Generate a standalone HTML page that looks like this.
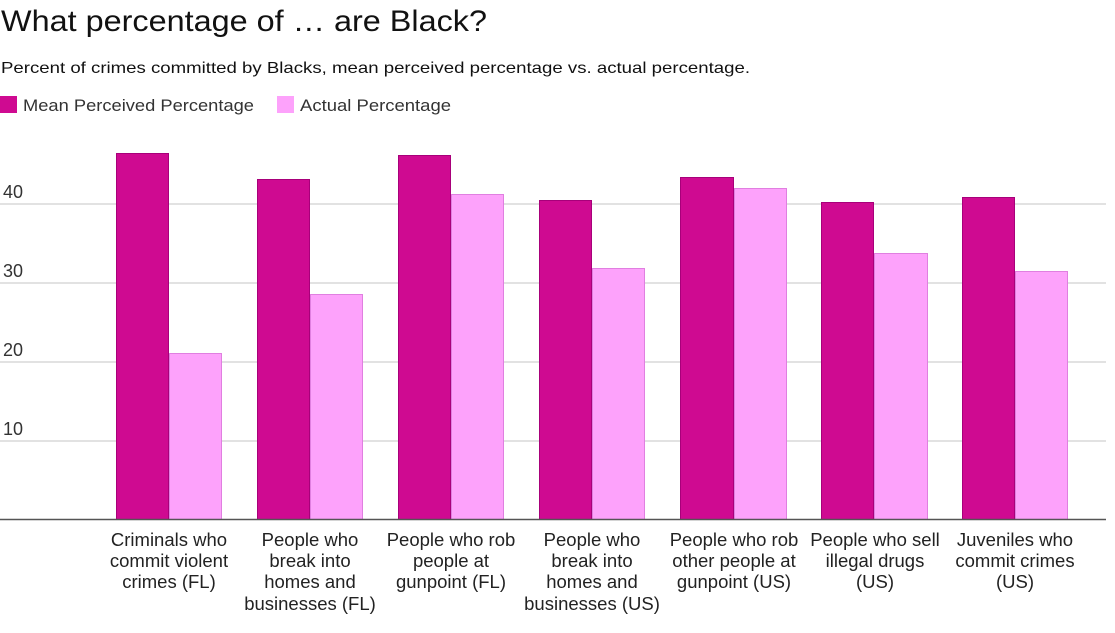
<!DOCTYPE html>
<html><head><meta charset="utf-8"><style>
html,body{margin:0;padding:0;background:#fff;}
svg{display:block;font-family:"Liberation Sans",Arial,sans-serif;}
</style></head><body>
<svg width="1115" height="633" viewBox="0 0 1115 633" xmlns="http://www.w3.org/2000/svg">
<text x="1" y="31" font-size="30" fill="#111" textLength="486" lengthAdjust="spacingAndGlyphs">What percentage of … are Black?</text>
<text x="1" y="73" font-size="16" fill="#111" textLength="749" lengthAdjust="spacingAndGlyphs">Percent of crimes committed by Blacks, mean perceived percentage vs. actual percentage.</text>
<rect x="0" y="96" width="17" height="17" fill="#cf0a91"/>
<text x="23" y="111" font-size="17" fill="#333" textLength="231" lengthAdjust="spacingAndGlyphs">Mean Perceived Percentage</text>
<rect x="277" y="96" width="17" height="17" fill="#fda2fb"/>
<text x="300" y="111" font-size="17" fill="#333" textLength="151" lengthAdjust="spacingAndGlyphs">Actual Percentage</text>
<g stroke="#d8d8d8" stroke-width="1.5">
<line x1="0" y1="204" x2="1106" y2="204"/>
<line x1="0" y1="283" x2="1106" y2="283"/>
<line x1="0" y1="362" x2="1106" y2="362"/>
<line x1="0" y1="441" x2="1106" y2="441"/>
</g>
<g font-size="18" fill="#333">
<text x="3" y="198">40</text>
<text x="3" y="277">30</text>
<text x="3" y="356">20</text>
<text x="3" y="435">10</text>
</g>
<g stroke-width="1">
<rect x="116.5" y="153.5" width="52" height="366" fill="#cf0a91" stroke="#a8007a"/>
<rect x="169.5" y="353.5" width="52" height="166" fill="#fda2fb" stroke="#e07fe0"/>
<rect x="257.5" y="179.5" width="52" height="340" fill="#cf0a91" stroke="#a8007a"/>
<rect x="310.5" y="294.5" width="52" height="225" fill="#fda2fb" stroke="#e07fe0"/>
<rect x="398.5" y="155.5" width="52" height="364" fill="#cf0a91" stroke="#a8007a"/>
<rect x="451.5" y="194.5" width="52" height="325" fill="#fda2fb" stroke="#e07fe0"/>
<rect x="539.5" y="200.5" width="52" height="319" fill="#cf0a91" stroke="#a8007a"/>
<rect x="592.5" y="268.5" width="52" height="251" fill="#fda2fb" stroke="#e07fe0"/>
<rect x="680.5" y="177.5" width="53" height="342" fill="#cf0a91" stroke="#a8007a"/>
<rect x="734.5" y="188.5" width="52" height="331" fill="#fda2fb" stroke="#e07fe0"/>
<rect x="821.5" y="202.5" width="52" height="317" fill="#cf0a91" stroke="#a8007a"/>
<rect x="874.5" y="253.5" width="53" height="266" fill="#fda2fb" stroke="#e07fe0"/>
<rect x="962.5" y="197.5" width="52" height="322" fill="#cf0a91" stroke="#a8007a"/>
<rect x="1015.5" y="271.5" width="52" height="248" fill="#fda2fb" stroke="#e07fe0"/>
</g>
<line x1="0" y1="519.5" x2="1106" y2="519.5" stroke="#555" stroke-width="1.5"/>
<g font-size="18.5" fill="#222" text-anchor="middle">
<text x="169" y="546">Criminals who</text><text x="169" y="567">commit violent</text><text x="169" y="588">crimes (FL)</text>
<text x="310" y="546">People who</text><text x="310" y="567">break into</text><text x="310" y="588">homes and</text><text x="310" y="610">businesses (FL)</text>
<text x="451" y="546">People who rob</text><text x="451" y="567">people at</text><text x="451" y="588">gunpoint (FL)</text>
<text x="592" y="546">People who</text><text x="592" y="567">break into</text><text x="592" y="588">homes and</text><text x="592" y="610">businesses (US)</text>
<text x="734" y="546">People who rob</text><text x="734" y="567">other people at</text><text x="734" y="588">gunpoint (US)</text>
<text x="875" y="546">People who sell</text><text x="875" y="567">illegal drugs</text><text x="875" y="588">(US)</text>
<text x="1015" y="546">Juveniles who</text><text x="1015" y="567">commit crimes</text><text x="1015" y="588">(US)</text>
</g>
</svg>
</body></html>
